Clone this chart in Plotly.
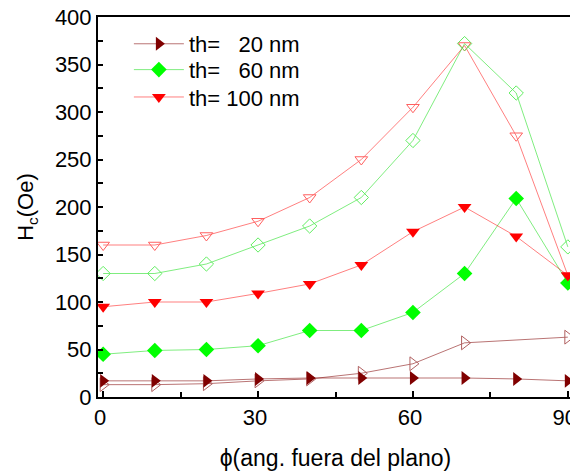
import plotly.graph_objects as go

phi = [0, 10, 20, 30, 40, 50, 60, 70, 80, 90]
phi_open20 = [0, 10, 20, 30, 40, 50, 60, 70, 90]

hc_20_filled = [17, 17, 17, 19, 20, 20, 20, 20, 19, 17]
hc_60_filled = [45, 49, 50, 54, 70, 70, 89, 130, 209, 120]
hc_100_filled = [95, 100, 100, 109, 119, 139, 174, 200, 169, 128]

hc_20_open = [13, 13, 14, 17, 19, 25, 35, 57, 63]
hc_60_open = [130, 130, 140, 160, 180, 210, 270, 372, 320, 158]
hc_100_open = [160, 160, 170, 185, 210, 250, 305, 370, 275, 128]

legend_names = ["th=\u00a0\u00a0\u00a020 nm", "th=\u00a0\u00a0\u00a060 nm", "th=\u00a0100 nm"]

dark = "#800000"
dark_l = "rgba(128,0,0,0.55)"
green = "#00ff00"
green_l = "rgba(0,220,0,0.5)"
red = "#ff0000"
red_l = "rgba(255,0,0,0.5)"

fig = go.Figure()

# open series (not in legend)
fig.add_trace(go.Scatter(x=phi, y=hc_100_open, mode="lines+markers", showlegend=False,
                         line=dict(color=red_l, width=1),
                         marker=dict(symbol="triangle-down-open", size=11, color="#ff6060", line=dict(width=1))))
fig.add_trace(go.Scatter(x=phi, y=hc_60_open, mode="lines+markers", showlegend=False,
                         line=dict(color=green_l, width=1),
                         marker=dict(symbol="diamond-open", size=11, color="#60ee60", line=dict(width=1))))
fig.add_trace(go.Scatter(x=phi_open20, y=hc_20_open, mode="lines+markers", showlegend=False,
                         line=dict(color=dark_l, width=1),
                         marker=dict(symbol="triangle-right-open", size=12, color="#b06060", line=dict(width=1))))

# filled series
fig.add_trace(go.Scatter(x=phi, y=hc_20_filled, mode="lines+markers", name=legend_names[0],
                         legend="legend",
                         line=dict(color=dark_l, width=1),
                         marker=dict(symbol="triangle-right", size=12, color=dark)))
fig.add_trace(go.Scatter(x=phi, y=hc_60_filled, mode="lines+markers", name=legend_names[1],
                         legend="legend2",
                         line=dict(color=green_l, width=1),
                         marker=dict(symbol="diamond", size=12, color=green)))
fig.add_trace(go.Scatter(x=phi, y=hc_100_filled, mode="lines+markers", name=legend_names[2],
                         legend="legend3",
                         line=dict(color=red_l, width=1),
                         marker=dict(symbol="triangle-down", size=12, color=red)))

font = "Liberation Sans, Arial, sans-serif"
fs = 22

leg_common = dict(x=0.065, xanchor="left", yanchor="middle", bgcolor="rgba(0,0,0,0)",
                  font=dict(size=fs), itemwidth=50)

# page body has an 8px default margin; the figure is sized to fit inside it
fig.update_layout(
    width=570, height=465,
    margin=dict(l=90, r=5, t=9, b=76, autoexpand=False),
    paper_bgcolor="white", plot_bgcolor="white",
    font=dict(family=font, size=fs, color="black"),
    showlegend=True,
    legend=dict(y=0.929, **leg_common),
    legend2=dict(y=0.861, **leg_common),
    legend3=dict(y=0.789, **leg_common),
)
fig.update_xaxes(range=[-1, 91], tickvals=[0, 30, 60, 90], ticks="inside", ticklen=6,
                 tickwidth=2, tickcolor="black", automargin=False, ticklabeloverflow="allow",
                 ticklabelshift=-3,
                 minor=dict(tickvals=[15, 45, 75], ticks="inside", ticklen=5, tickwidth=1.5, tickcolor="black"),
                 showline=True, linewidth=2, linecolor="black", mirror=True,
                 showgrid=False, zeroline=False,
                 title=dict(text="ϕ(ang. fuera del plano)", font=dict(size=23), standoff=20),
                 tickfont=dict(size=fs))
fig.update_yaxes(range=[0, 400], dtick=50, ticks="inside", ticklen=5, tickwidth=1.5, tickcolor="black",
                 automargin=False, ticklabeloverflow="allow",
                 minor=dict(dtick=25, ticks="inside", ticklen=5, tickwidth=1.5, tickcolor="black"),
                 showline=True, linewidth=2, linecolor="black", mirror=True,
                 showgrid=False, zeroline=False,
                 title=dict(text="H<sub>c</sub>(Oe)", font=dict(size=fs), standoff=15),
                 tickfont=dict(size=fs))

fig.write_html("out.html")
